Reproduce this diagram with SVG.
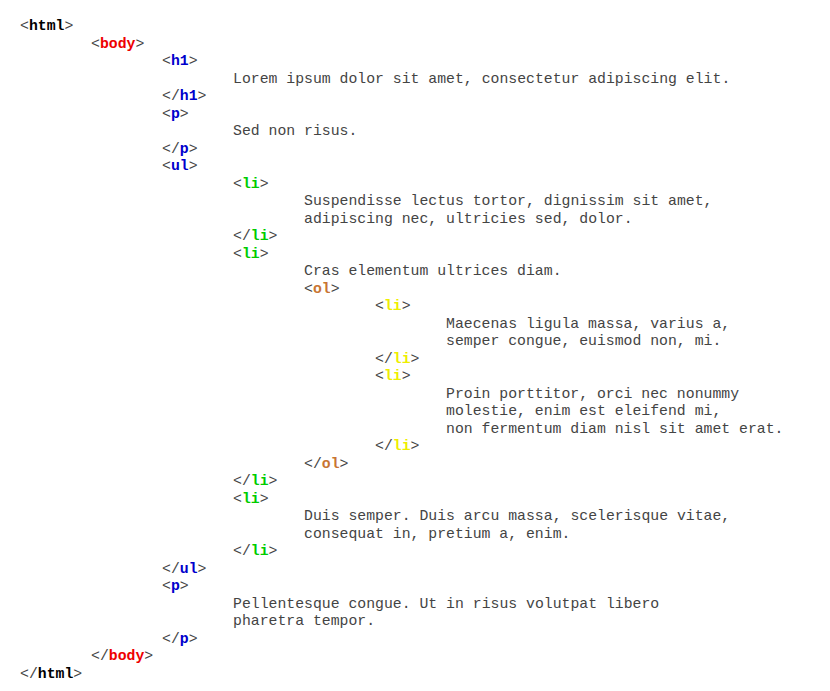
<svg xmlns="http://www.w3.org/2000/svg" width="830" height="691" viewBox="0 0 830 691">
<style>
text{font-family:"Liberation Mono","Courier New",monospace;font-size:14.8px;fill:#444;white-space:pre}
.t{font-weight:bold}
.k{fill:#000}.r{fill:#e00}.b{fill:#00c}.g{fill:#0c0}.o{fill:#c87533}.y{fill:#ee0}
</style>
<rect width="830" height="691" fill="#fff"/>
<g id="code" transform="translate(0,3)">
<text x="20" y="27">&lt;<tspan class="t k">html</tspan>&gt;</text>
<text x="91" y="45">&lt;<tspan class="t r">body</tspan>&gt;</text>
<text x="162" y="62">&lt;<tspan class="t b">h1</tspan>&gt;</text>
<text x="233" y="80">Lorem ipsum dolor sit amet, consectetur adipiscing elit.</text>
<text x="162" y="97">&lt;/<tspan class="t b">h1</tspan>&gt;</text>
<text x="162" y="115">&lt;<tspan class="t b">p</tspan>&gt;</text>
<text x="233" y="132">Sed non risus.</text>
<text x="162" y="150">&lt;/<tspan class="t b">p</tspan>&gt;</text>
<text x="162" y="167">&lt;<tspan class="t b">ul</tspan>&gt;</text>
<text x="233" y="185">&lt;<tspan class="t g">li</tspan>&gt;</text>
<text x="304" y="202">Suspendisse lectus tortor, dignissim sit amet,</text>
<text x="304" y="220">adipiscing nec, ultricies sed, dolor.</text>
<text x="233" y="237">&lt;/<tspan class="t g">li</tspan>&gt;</text>
<text x="233" y="255">&lt;<tspan class="t g">li</tspan>&gt;</text>
<text x="304" y="272">Cras elementum ultrices diam.</text>
<text x="304" y="290">&lt;<tspan class="t o">ol</tspan>&gt;</text>
<text x="375" y="307">&lt;<tspan class="t y">li</tspan>&gt;</text>
<text x="446" y="325">Maecenas ligula massa, varius a,</text>
<text x="446" y="342">semper congue, euismod non, mi.</text>
<text x="375" y="360">&lt;/<tspan class="t y">li</tspan>&gt;</text>
<text x="375" y="377">&lt;<tspan class="t y">li</tspan>&gt;</text>
<text x="446" y="395">Proin porttitor, orci nec nonummy</text>
<text x="446" y="412">molestie, enim est eleifend mi,</text>
<text x="446" y="430">non fermentum diam nisl sit amet erat.</text>
<text x="375" y="447">&lt;/<tspan class="t y">li</tspan>&gt;</text>
<text x="304" y="465">&lt;/<tspan class="t o">ol</tspan>&gt;</text>
<text x="233" y="482">&lt;/<tspan class="t g">li</tspan>&gt;</text>
<text x="233" y="500">&lt;<tspan class="t g">li</tspan>&gt;</text>
<text x="304" y="517">Duis semper. Duis arcu massa, scelerisque vitae,</text>
<text x="304" y="535">consequat in, pretium a, enim.</text>
<text x="233" y="552">&lt;/<tspan class="t g">li</tspan>&gt;</text>
<text x="162" y="570">&lt;/<tspan class="t b">ul</tspan>&gt;</text>
<text x="162" y="587">&lt;<tspan class="t b">p</tspan>&gt;</text>
<text x="233" y="605">Pellentesque congue. Ut in risus volutpat libero</text>
<text x="233" y="622">pharetra tempor.</text>
<text x="162" y="640">&lt;/<tspan class="t b">p</tspan>&gt;</text>
<text x="91" y="657">&lt;/<tspan class="t r">body</tspan>&gt;</text>
<text x="20" y="675">&lt;/<tspan class="t k">html</tspan>&gt;</text>
</g>
</svg>
